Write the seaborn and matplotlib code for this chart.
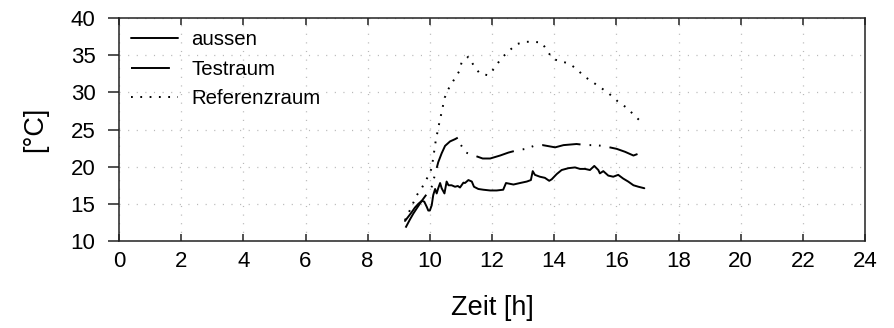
import matplotlib
matplotlib.use("Agg")
import matplotlib.pyplot as plt
import seaborn as sns
import pandas as pd

# Temperature logs (hour of day, degrees C)
aussen_h = [9.20, 9.33, 9.42, 9.52, 9.63, 9.74, 9.82, 9.90, 9.95, 10.00, 10.06, 10.11, 10.17,
            10.22, 10.27, 10.33, 10.38, 10.47, 10.54, 10.60, 10.70, 10.81, 10.90, 10.97, 11.08,
            11.13, 11.24, 11.35, 11.42, 11.56, 11.72, 11.94, 12.15, 12.36, 12.45, 12.69, 12.90,
            13.12, 13.25, 13.31, 13.38, 13.54, 13.70, 13.84, 13.92, 14.08, 14.24, 14.46, 14.67,
            14.83, 14.99, 15.15, 15.29, 15.42, 15.47, 15.58, 15.74, 15.90, 16.06, 16.22, 16.38,
            16.55, 16.71, 16.90]
aussen_t = [12.7, 13.4, 13.9, 14.5, 15.0, 15.4, 15.3, 14.6, 14.1, 14.1, 14.8, 16.2, 17.0,
            16.4, 17.1, 17.8, 17.1, 16.4, 18.0, 17.5, 17.5, 17.3, 17.4, 17.2, 17.85,
            17.8, 18.2, 18.0, 17.3, 17.0, 16.9, 16.8, 16.8, 16.9, 17.8, 17.6, 17.8,
            18.0, 18.2, 19.4, 18.9, 18.65, 18.5, 18.1, 18.3, 19.0, 19.55, 19.8, 19.9,
            19.7, 19.7, 19.55, 20.1, 19.55, 19.1, 19.4, 18.8, 18.65, 18.9, 18.4, 18.0,
            17.5, 17.3, 17.1]

test_h = [9.22, 9.36, 9.47, 9.58, 9.74, 9.95, 10.06, 10.17, 10.27, 10.38, 10.49, 10.65, 10.81,
          10.92, 10.97, 11.16, 11.43, 11.70, 11.94, 12.26, 12.53, 12.80, 13.09, 13.35, 13.63,
          14.03, 14.30, 14.72, 15.03, 15.29, 15.56, 16.01, 16.28, 16.55, 16.68]
test_t = [11.8, 12.9, 13.7, 14.4, 15.4, 16.6, 17.3, 19.0, 20.6, 21.8, 22.8, 23.4, 23.7,
          23.95, 23.1, 21.9, 21.5, 21.1, 21.1, 21.5, 21.9, 22.2, 22.4, 22.8, 22.9,
          22.6, 22.9, 23.05, 22.9, 22.9, 22.8, 22.4, 22.0, 21.5, 21.7]

ref_h = [9.20, 9.40, 9.57, 9.75, 9.95, 10.06, 10.12, 10.19, 10.30, 10.48, 10.59, 10.77, 10.94,
         11.02, 11.24, 11.40, 11.61, 11.88, 12.10, 12.28, 12.55, 12.80, 13.09, 13.31, 13.60,
         13.76, 13.95, 14.19, 14.46, 14.71, 14.95, 15.23, 15.51, 15.77, 16.04, 16.34, 16.58,
         16.85]
ref_t = [12.8, 14.5, 16.1, 17.2, 18.75, 19.8, 21.5, 23.5, 25.8, 29.3, 30.4, 31.65, 32.8,
         34.0, 34.8, 33.7, 32.5, 32.3, 33.35, 34.5, 35.6, 36.5, 36.8, 36.8, 36.7,
         35.7, 34.5, 34.2, 33.9, 33.2, 32.2, 31.4, 30.6, 29.8, 28.8, 27.9, 26.9,
         25.8]

series_names = ["aussen", "Testraum", "Referenzraum"]
x_ticks = list(range(0, 25, 2))
y_ticks = list(range(10, 41, 5))

sns.set_style("white")
plt.rcParams["font.family"] = ["Liberation Sans", "DejaVu Sans"]
plt.rcParams["lines.scale_dashes"] = False
for key in ("text.color", "axes.labelcolor", "xtick.color", "ytick.color"):
    plt.rcParams[key] = "black"

fig = plt.figure(figsize=(8.94, 3.28), dpi=100)
ax = fig.add_axes([0.1331, 0.2652, 0.8345, 0.6799])

frames = [
    pd.DataFrame({"Zeit": aussen_h, "T": aussen_t}),
    pd.DataFrame({"Zeit": test_h, "T": test_t}),
    pd.DataFrame({"Zeit": ref_h, "T": ref_t}),
]
styles = [
    dict(linestyle="-"),
    dict(dashes=(28, 6.5, 1.2, 5.6, 1.2, 6.5)),
    dict(dashes=(1.3, 5.4)),
]
for name, df, st in zip(series_names, frames, styles):
    sns.lineplot(data=df, x="Zeit", y="T", ax=ax, color="black", lw=1.4,
                 estimator=None, sort=False, label=name, **st)

ax.set_xlim(0, 24)
ax.set_ylim(10, 40)
ax.set_xticks(x_ticks)
ax.set_yticks(y_ticks)
ax.grid(True, color="#b8b8b8", linewidth=0.9, linestyle=(0, (0.8, 5.4)))

for s in ax.spines.values():
    s.set_color("#222222")
    s.set_linewidth(1.1)

ax.tick_params(axis="x", direction="in", length=5, width=1.1, top=True, bottom=True,
               labelsize=16, pad=7, color="#222222")
ax.tick_params(axis="y", direction="out", length=8, width=1.1, left=True, right=False,
               labelsize=16, pad=9, color="#222222")

ax.set_xlabel("Zeit [h]", fontsize=19.5, labelpad=17)
ax.set_ylabel("[°C]", fontsize=19.5, labelpad=16)

ax.legend(loc="upper left", frameon=False, fontsize=14.7, handlelength=2.3,
          handletextpad=0.64, labelspacing=0.52, borderaxespad=0.4, borderpad=0.2)

fig.savefig("out.png", dpi=100)
